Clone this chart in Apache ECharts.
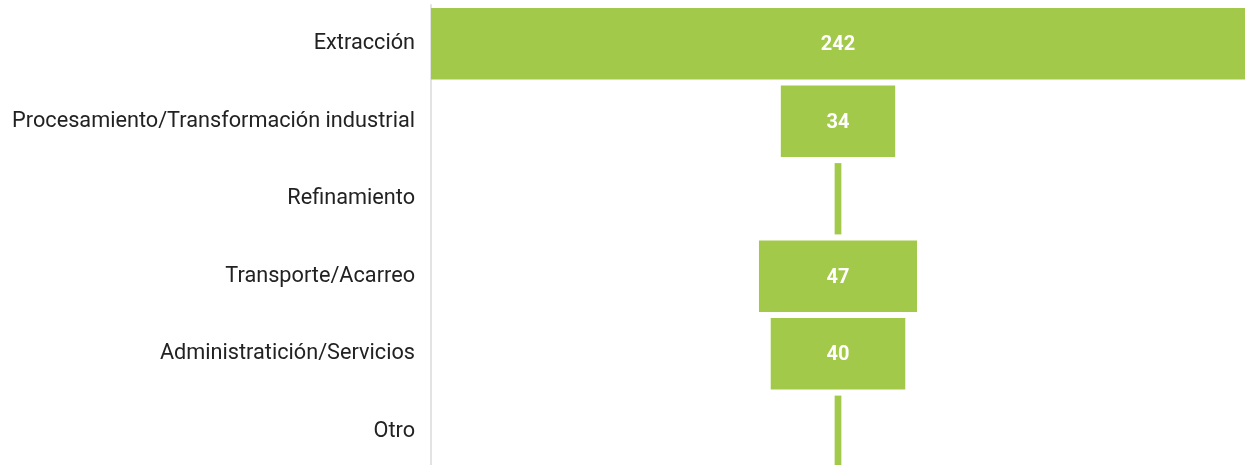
<!DOCTYPE html>
<html>
<head>
<meta charset="utf-8">
<script src="https://cdn.jsdelivr.net/npm/echarts@6/dist/echarts.min.js"></script>
<style>
  html, body { margin: 0; padding: 0; background: #fff; overflow: hidden; }
  #chart { width: 1246px; height: 470px; }
</style>
</head>
<body>
<div id="chart"></div>
<script>
// Stages of the value chain and the count reported for each
const categories = [
  'Extracción',
  'Procesamiento/Transformación industrial',
  'Refinamiento',
  'Transporte/Acarreo',
  'Administratición/Servicios',
  'Otro'
];
const values = [242, 34, 2, 47, 40, 2];

const maxValue = Math.max(...values);
// Transparent spacer so each bar is centred on the widest one
const offsets = values.map(v => (maxValue - v) / 2);

const chart = echarts.init(document.getElementById('chart'), null, { renderer: 'canvas' });
chart.setOption({
  animation: false,
  grid: { left: 431, right: 1, top: 5, bottom: 0, containLabel: false },
  xAxis: {
    type: 'value', min: 0, max: maxValue,
    show: false
  },
  yAxis: {
    type: 'category', data: categories, inverse: true,
    axisLine: { show: true, lineStyle: { color: '#e3e3e3', width: 2 } },
    axisTick: { show: false },
    axisLabel: {
      margin: 16, color: '#222', fontFamily: 'Roboto', fontSize: 21.7,
      padding: [8, 0, 0, 0]
    }
  },
  series: [
    {
      type: 'bar', stack: 'f', data: offsets,
      itemStyle: { color: 'transparent' },
      barCategoryGap: '8%', silent: true
    },
    {
      type: 'bar', stack: 'f', data: values,
      itemStyle: { color: '#a2c94a' },
      barCategoryGap: '8%',
      label: {
        show: true, position: 'inside', color: '#fff',
        fontFamily: 'Roboto', fontWeight: 'bold', fontSize: 20,
        offset: [0, 1.5],
        formatter: p => (p.value >= 10 ? p.value : '')
      }
    }
  ]
});
</script>
</body>
</html>
